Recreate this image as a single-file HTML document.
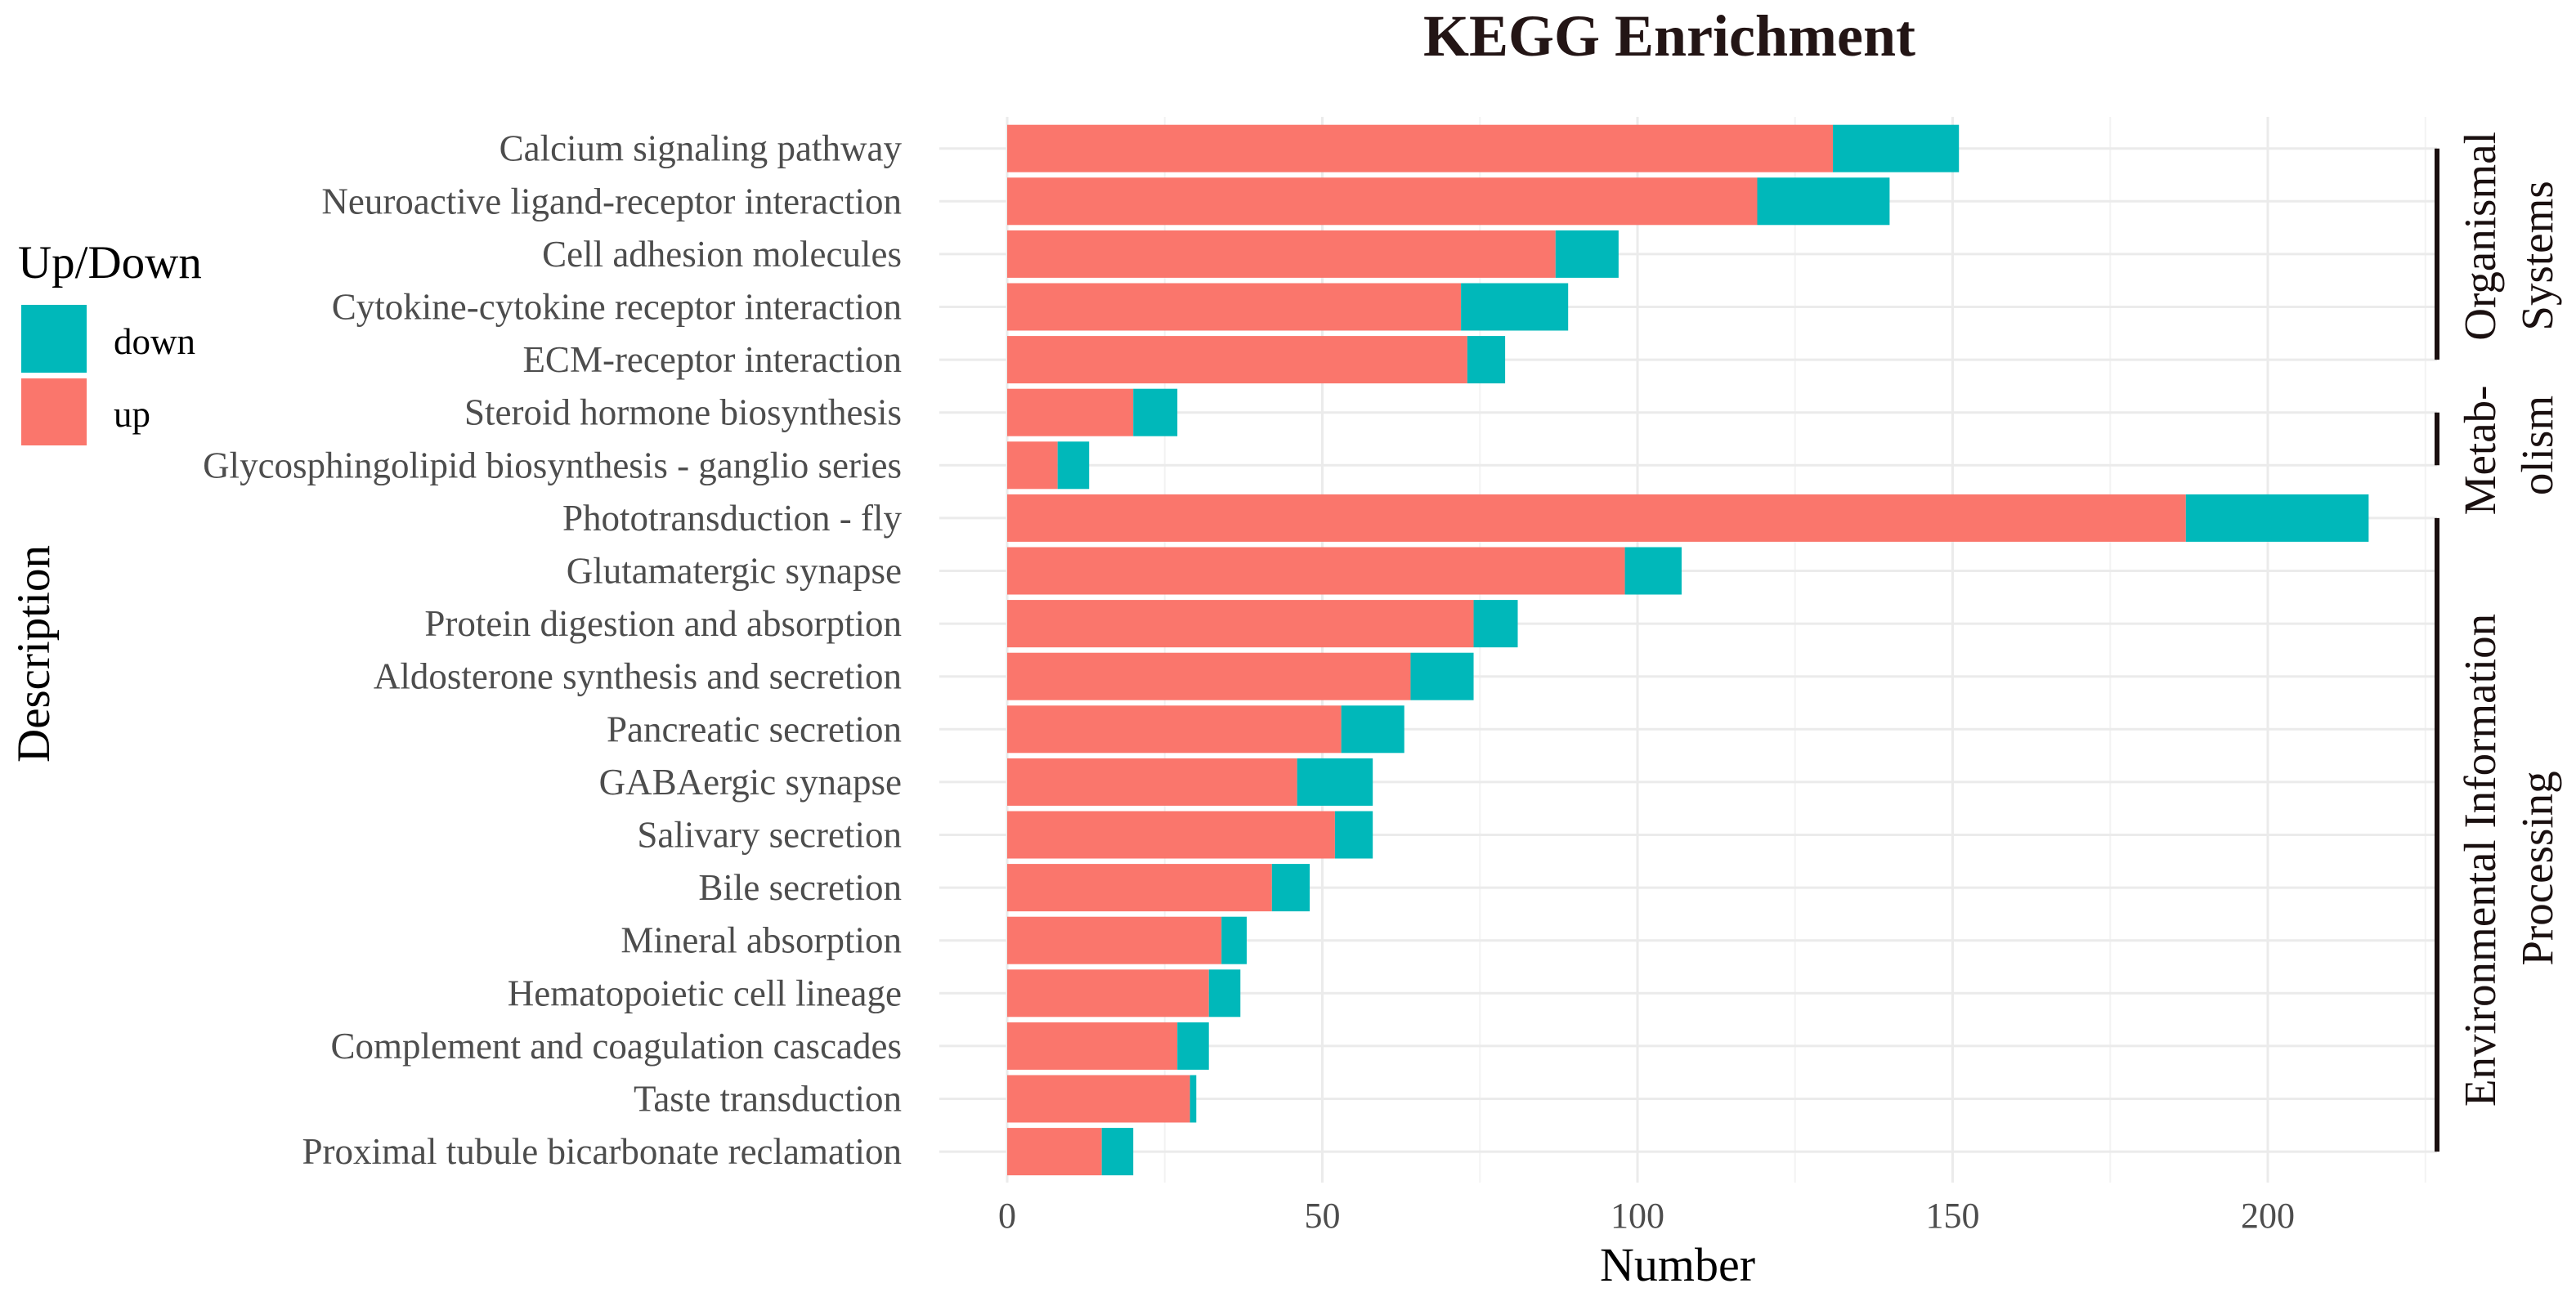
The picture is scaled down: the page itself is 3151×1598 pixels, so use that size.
<!DOCTYPE html>
<html><head><meta charset="utf-8"><style>
html,body{margin:0;padding:0;background:#fff;}
svg{display:block;font-family:"Liberation Serif",serif;}
</style></head><body>
<svg id="chart" width="3151" height="1598" viewBox="0 0 3151 1598">
<text x="2042" y="68" text-anchor="middle" font-size="72" font-weight="bold" fill="#231515">KEGG Enrichment</text>
<g id="grid"></g><g id="bars"></g><g id="ylabels"></g><g id="xticks"></g>
<text x="2052" y="1567" text-anchor="middle" font-size="58" fill="#000">Number</text>
<text transform="translate(60,800) rotate(-90)" text-anchor="middle" font-size="57" fill="#000">Description</text>
<g>
<text x="22" y="340" font-size="57" fill="#000">Up/Down</text>
<rect x="26" y="373" width="80" height="83" fill="#00B8BA"/>
<text x="139" y="433" font-size="45" fill="#000">down</text>
<rect x="26" y="463" width="80" height="82" fill="#FA766C"/>
<text x="139" y="522" font-size="45" fill="#000">up</text>
</g>
<g id="strips"></g>
</svg>
<script>
const categories=["Calcium signaling pathway","Neuroactive ligand-receptor interaction","Cell adhesion molecules","Cytokine-cytokine receptor interaction","ECM-receptor interaction","Steroid hormone biosynthesis","Glycosphingolipid biosynthesis - ganglio series","Phototransduction - fly","Glutamatergic synapse","Protein digestion and absorption","Aldosterone synthesis and secretion","Pancreatic secretion","GABAergic synapse","Salivary secretion","Bile secretion","Mineral absorption","Hematopoietic cell lineage","Complement and coagulation cascades","Taste transduction","Proximal tubule bicarbonate reclamation"];
const upValues=[131,119,87,72,73,20,8,187,98,74,64,53,46,52,42,34,32,27,29,15];
const downValues=[20,21,10,17,6,7,5,29,9,7,10,10,12,6,6,4,5,5,1,5];
const xTicks=[0,50,100,150,200];
const xMinor=[25,75,125,175,225];
const groupNames=[["Organismal","Systems"],["Metab-","olism"],["Environmental Information","Processing"]];
const groupStart=[0,5,7];
const groupEnd=[4,6,19];

const NS="http://www.w3.org/2000/svg";
function mk(tag,attrs,parent){const e=document.createElementNS(NS,tag);for(const k in attrs)e.setAttribute(k,attrs[k]);parent.appendChild(e);return e;}
const x0=1232,pxPerUnit=7.71;
const xs=v=>x0+v*pxPerUnit;
const rowTop=181.7,rowStep=64.6;
const ys=i=>rowTop+i*rowStep;
const barH=58;
const panelL=1149,panelR=2981,panelT=143,panelB=1447;
const labelShift=[[-22,2],[14,8],[31,41]];

const grid=document.getElementById('grid');
xMinor.forEach(v=>{const l=mk('line',{x1:xs(v),x2:xs(v),y1:panelT,y2:panelB,stroke:'#f3f3f3','stroke-width':2},grid);

});
xTicks.forEach(v=>{const l=mk('line',{x1:xs(v),x2:xs(v),y1:panelT,y2:panelB,stroke:'#ebebeb','stroke-width':3},grid);

});
categories.forEach((c,i)=>{const l=mk('line',{x1:panelL,x2:panelR,y1:ys(i),y2:ys(i),stroke:'#ebebeb','stroke-width':3},grid);

});

const bars=document.getElementById('bars'),yl=document.getElementById('ylabels');
categories.forEach((c,i)=>{
 const y=ys(i)-barH/2;
 const u=mk('rect',{x:xs(0),y:y,width:xs(upValues[i])-xs(0),height:barH,fill:'#FA766C'},bars);
 
 
 const d=mk('rect',{x:xs(upValues[i]),y:y,width:xs(upValues[i]+downValues[i])-xs(upValues[i]),height:barH,fill:'#00B8BA'},bars);
 
 
 const t=mk('text',{x:1103,y:ys(i)+15,'text-anchor':'end','font-size':45,fill:'#4d4d4d'},yl);
 t.textContent=c;
 
 
});
const xt=document.getElementById('xticks');
xTicks.forEach(v=>{const t=mk('text',{x:xs(v),y:1502,'text-anchor':'middle','font-size':44,fill:'#4d4d4d'},xt);
t.textContent=v;

});

const st=document.getElementById('strips');
groupNames.forEach((g,k)=>{
 const top=ys(groupStart[k]),bot=ys(groupEnd[k]);
 const l=mk('line',{x1:2981,x2:2981,y1:top,y2:bot,stroke:'#1a0f0f','stroke-width':6},st);
 
 
 const cy=(top+bot)/2;
 g.forEach((s,j)=>{
  const bx=3052+j*70;
  const t=mk('text',{transform:`translate(${bx},${cy+labelShift[k][j]}) rotate(-90)`,'text-anchor':'middle','font-size':55,fill:'#1a1010'},st);
  t.textContent=s;
  
  
 });
});
</script>
</body></html>
